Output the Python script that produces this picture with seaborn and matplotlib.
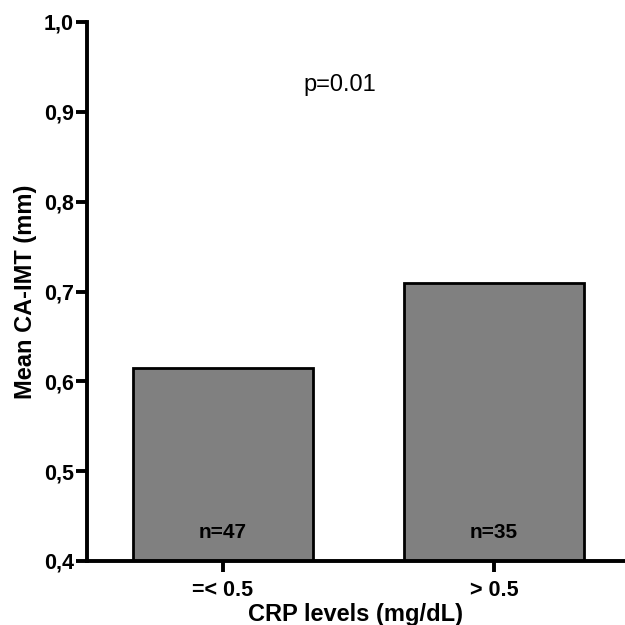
import matplotlib
matplotlib.use("Agg")
import pandas as pd
import seaborn as sns
import matplotlib.pyplot as plt

# Data
groups = ["=< 0.5", "> 0.5"]
mean_imt = [0.615, 0.710]
n_labels = ["n=47", "n=35"]
y_ticks = [0.4, 0.5, 0.6, 0.7, 0.8, 0.9, 1.0]
p_text = "p=0.01"

df = pd.DataFrame({"group": groups, "imt": mean_imt})

sns.set_style("ticks", {"axes.edgecolor": "black", "text.color": "black",
                        "xtick.color": "black", "ytick.color": "black",
                        "axes.labelcolor": "black"})
plt.rcParams["font.family"] = ["Liberation Sans", "DejaVu Sans"]

fig = plt.figure(figsize=(6.25, 6.25), dpi=100)
ax = fig.add_axes([0.139, 0.1024, 0.861, 0.8624])

sns.barplot(data=df, x="group", y="imt", color="#808080", saturation=1,
            width=0.664, edgecolor="black", linewidth=2, ax=ax)

ax.set_xlim(-0.502, 1.483)
ax.set_ylim(0.4, 1.0)
ax.set_yticks(y_ticks)
ax.set_yticklabels([f"{t:.1f}".replace(".", ",") for t in y_ticks])

sns.despine(ax=ax, top=True, right=True)
for s in ["left", "bottom"]:
    ax.spines[s].set_linewidth(2.8)
ax.tick_params(axis="both", width=2.8, length=8, labelsize=15.5)
ax.tick_params(axis="y", pad=1.5)
ax.tick_params(axis="x", pad=6)
for lbl in ax.get_xticklabels() + ax.get_yticklabels():
    lbl.set_fontweight("bold")

ax.set_xlabel("CRP levels (mg/dL)", fontsize=17, fontweight="bold", labelpad=1)
ax.set_ylabel("Mean CA-IMT (mm)", fontsize=17, fontweight="bold", labelpad=5)

for i, t in enumerate(n_labels):
    ax.text(i, 0.432, t, ha="center", va="center", fontsize=15, fontweight="bold")

ax.text(0.43, 0.93, p_text, ha="center", va="center", fontsize=17)

fig.savefig("out.png", dpi=100)
